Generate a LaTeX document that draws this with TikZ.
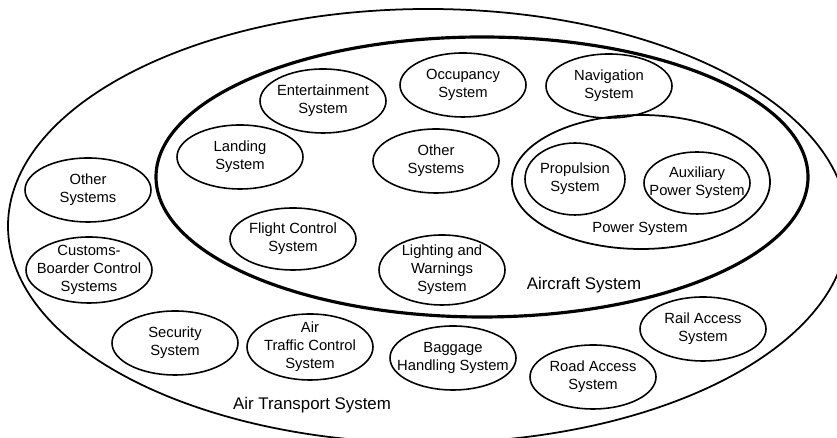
\documentclass[tikz,border=0pt]{standalone}
\usepackage{fontspec}
\setmainfont{Liberation Sans}
\usepackage{tikz}
\usetikzlibrary{shapes.geometric}

\begin{document}
\begin{tikzpicture}[
  sys/.style={ellipse, draw, line width=0.9pt, align=center,
    inner xsep=-8pt, inner ysep=-3pt,
    minimum width=2.52cm, minimum height=1.28cm,
    font=\fontsize{8.4}{10.3}\selectfont},
  biglabel/.style={font=\fontsize{9.6}{11}\selectfont}
]

\clip (0,0) rectangle (16.74,8.76);

% boundaries
\draw [line width=1pt] (8.56,4.24) ellipse (8.40 and 4.34);
\draw [line width=1.8pt] (9.64,5.22) ellipse (6.52 and 2.80);
\draw [line width=1pt] (12.82,5.12) ellipse (2.58 and 1.34);

% aircraft
\node [sys] (ent) at (6.46,6.74) {Entertainment\\System};
\node [sys] (occ) at (9.26,7.06) {Occupancy\\System};
\node [sys] (nav) at (12.18,7.04) {Navigation\\System};
\node [sys] (land) at (4.80,5.62) {Landing\\System};
\node [sys] (othin) at (8.72,5.54) {Other\\Systems};
\node [sys, minimum width=2.0cm, minimum height=1.44cm] (prop) at (11.50,5.18) {Propulsion\\System};
\node [sys, minimum width=2.12cm, minimum height=1.24cm] (aux) at (13.94,5.10) {Auxiliary\\Power System};
\node [font=\fontsize{8.4}{10.3}\selectfont] (power) at (12.80,4.18) {Power System};
\node [sys, minimum height=1.24cm] (flight) at (5.86,3.98) {Flight Control\\System};
\node [sys, minimum height=1.40cm] (light) at (8.84,3.36) {Lighting and\\Warnings\\System};
\node [biglabel] (aircraft) at (11.68,3.06) {Aircraft System};

% air transport
\node [sys] (othout) at (1.76,4.96) {Other\\Systems};
\node [sys, minimum height=1.32cm] (customs) at (1.78,3.36) {Customs-\\Boarder Control\\Systems};
\node [sys] (sec) at (3.50,1.90) {Security\\System};
\node [sys, minimum height=1.32cm] (atc) at (6.20,1.82) {Air\\Traffic Control\\System};
\node [sys] (bag) at (9.06,1.60) {Baggage\\Handling System};
\node [sys] (road) at (11.86,1.22) {Road Access\\System};
\node [sys] (rail) at (14.06,2.18) {Rail Access\\System};
\node [biglabel] (ats) at (6.24,0.66) {Air Transport System};

\end{tikzpicture}
\end{document}
